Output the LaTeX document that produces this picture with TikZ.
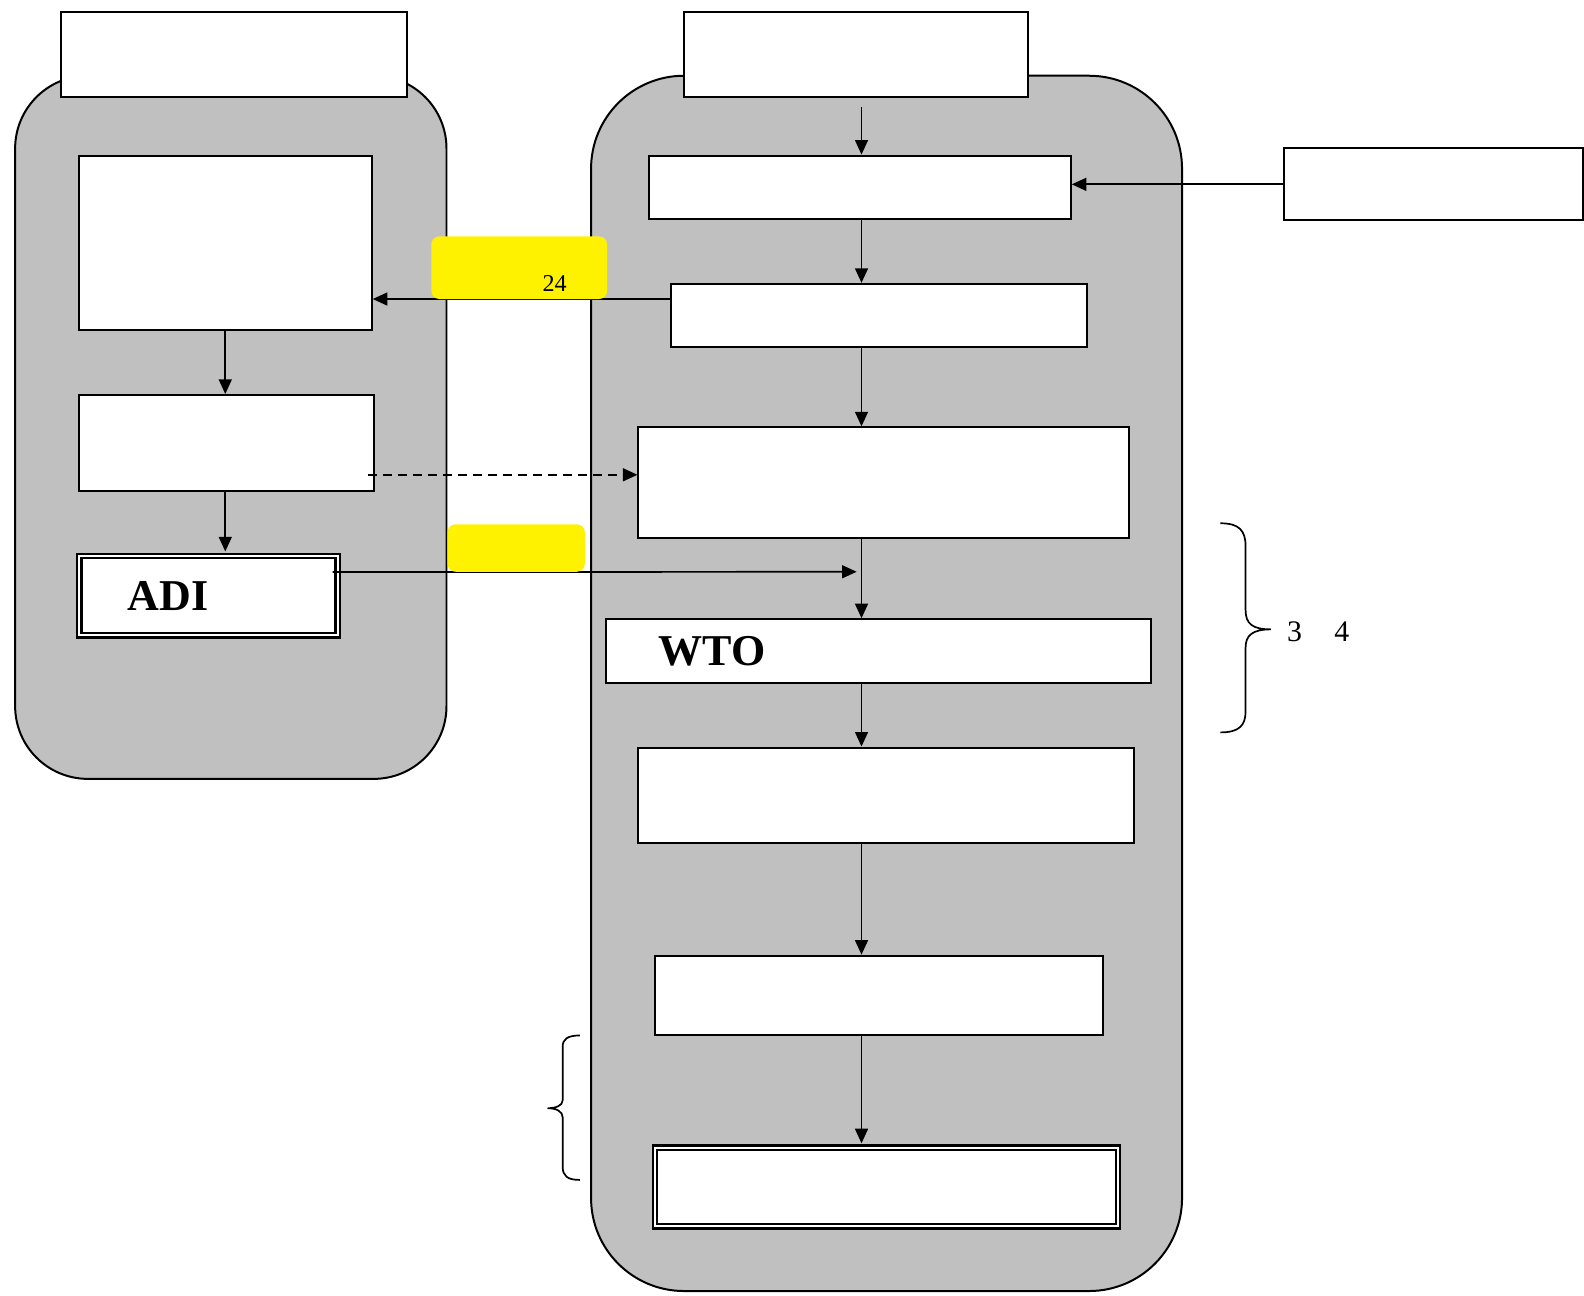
\documentclass[tikz,border=0pt]{standalone}
\usepackage{fontspec}
\setmainfont{Liberation Serif}
\usetikzlibrary{arrows.meta,positioning}
\definecolor{panelgray}{HTML}{C0C0C0}

\begin{document}
\begin{tikzpicture}[
  every node/.style={font=\rmfamily},
  panel/.style={draw, fill=panelgray, rectangle, rounded corners=#1,
                line width=0.7pt, inner sep=0pt},
  panel/.default=0.9cm,
  box/.style={draw, fill=white, rectangle, line width=0.7pt, inner sep=0pt},
  dbox/.style={draw, fill=white, double=white, double distance=0.6pt,
               line width=0.9pt, rectangle, inner sep=0pt},
  big/.style={font=\fontsize{15.5}{18}\selectfont\bfseries, align=left},
  hl/.style={fill=yellow, rectangle, rounded corners=0.1cm, inner sep=0pt},
  ar/.style={-{Triangle[length=0.18cm,width=0.16cm]}, line width=0.6pt},
  dar/.style={ar, dashed, dash pattern=on 3.2pt off 2.1pt},
  brc/.style={line width=0.6pt}]

\useasboundingbox (0,0) rectangle (19.6,-16.025);

%% --- Panels ---
\node[panel]        (LP) at (2.856, -5.2875) [minimum width=5.3375cm, minimum height=8.7cm] {};
\node[panel=1.15cm] (RP) at (10.97, -8.456)  [minimum width=7.3125cm, minimum height=15.0375cm] {};

%% --- Titles ---
\node[box] (LT)  at (2.894, -0.675)  [minimum width=4.2875cm, minimum height=1.05cm] {};
\node[box] (RT)  at (10.594,-0.675)  [minimum width=4.2625cm, minimum height=1.05cm] {};
\node[box] (EXT) at (17.7375,-2.281) [minimum width=3.7cm,    minimum height=0.8875cm] {};

%% --- Left column ---
\node[box]  (L1)  at (2.7875,-3.006) [minimum width=3.625cm, minimum height=2.1625cm] {};
\node[box]  (L2)  at (2.8,   -5.481) [minimum width=3.65cm,  minimum height=1.1875cm] {};
\node[dbox, big] (ADI) at (2.581,-7.369) [minimum width=3.2cm, minimum height=0.98cm,
            inner xsep=0.6cm, text width=2.0cm] {ADI};

%% --- Right column ---
\node[box]  (R1)  at (10.6375,-2.319) [minimum width=5.225cm,  minimum height=0.7875cm] {};
\node[box]  (R2)  at (10.875, -3.906) [minimum width=5.15cm,   minimum height=0.7875cm] {};
\node[box]  (R3)  at (10.9375,-5.975) [minimum width=6.075cm,  minimum height=1.375cm] {};
\node[box, big] (WTO) at (10.869,-8.056) [minimum width=6.7375cm, minimum height=0.7875cm,
            inner xsep=0.65cm, text width=5.4375cm] {WTO};
\node[box]  (R5)  at (10.969, -9.8375) [minimum width=6.1375cm, minimum height=1.175cm] {};
\node[box]  (R6)  at (10.875, -12.319) [minimum width=5.55cm,   minimum height=0.9875cm] {};
\node[dbox] (R7)  at (10.969, -14.6875)[minimum width=5.73cm,   minimum height=0.97cm] {};

\coordinate (spine)  at (10.66,0);
\coordinate (adiend) at (10.6,-7.075);

%% --- Arrows ---
\draw[ar] ([yshift=-0.11cm]spine |- RT.south) -- (spine |- R1.north);
\draw[ar] (EXT.west) -- (EXT.west -| R1.east);
\draw[ar] (spine |- R1.south) -- (spine |- R2.north);
\draw[ar] ([yshift=0.206cm]R2.west) -- ([yshift=0.206cm]R2.west -| L1.east);
\draw[ar] (spine |- R2.south) -- (spine |- R3.north);
\draw[ar] (L1.south) -- (L1.south |- L2.north);
\draw[ar] (L1.south |- L2.south) -- ([yshift=0.04cm]L1.south |- ADI.north);
\draw[dar] ([shift={(-0.09,-0.394)}]L2.east) -- ([yshift=-0.394cm]L2.east -| R3.west);
\draw[ar] ([shift={(-0.08,0.29)}]ADI.east) -- (adiend);
\draw[ar] (spine |- R3.south)  -- (spine |- WTO.north);
\draw[ar] (spine |- WTO.south) -- (spine |- R5.north);
\draw[ar] (spine |- R5.south)  -- (spine |- R6.north);
\draw[ar] (spine |- R6.south)  -- ([yshift=0.04cm]spine |- R7.north);

%% --- Highlights ---
\node[hl] (Y1) at (6.425,-3.3125) [minimum width=2.175cm, minimum height=0.775cm,
   label={[font=\fontsize{8.5}{10}\selectfont, xshift=0.4375cm, yshift=-0.195cm]center:24}] {};
\node[hl] (Y2) at (6.3875,-6.781) [minimum width=1.7cm, minimum height=0.5875cm] {};

%% --- Braces ---
\draw[brc] (15.1,-6.475) .. controls (15.33,-6.475) and (15.4125,-6.56) .. (15.4125,-6.7625)
   -- (15.4125,-7.55) .. controls (15.4125,-7.72) and (15.5,-7.7875) .. (15.725,-7.7875)
   .. controls (15.5,-7.7875) and (15.4125,-7.86) .. (15.4125,-8.0125)
   -- (15.4125,-8.8) .. controls (15.4125,-8.98) and (15.33,-9.0625) .. (15.1,-9.0625);
\node[font=\fontsize{10.5}{12}\selectfont] (N34) at (16.31,-7.82) {3\hspace{0.4cm}4};
\draw[brc] (7.175,-12.8125) .. controls (7.02,-12.8125) and (6.9625,-12.86) .. (6.9625,-12.95)
   -- (6.9625,-13.6125) .. controls (6.9625,-13.68) and (6.88,-13.7125) .. (6.775,-13.7125)
   .. controls (6.88,-13.7125) and (6.9625,-13.75) .. (6.9625,-13.825)
   -- (6.9625,-14.4375) .. controls (6.9625,-14.55) and (7.02,-14.6) .. (7.175,-14.6);
\end{tikzpicture}
\end{document}
